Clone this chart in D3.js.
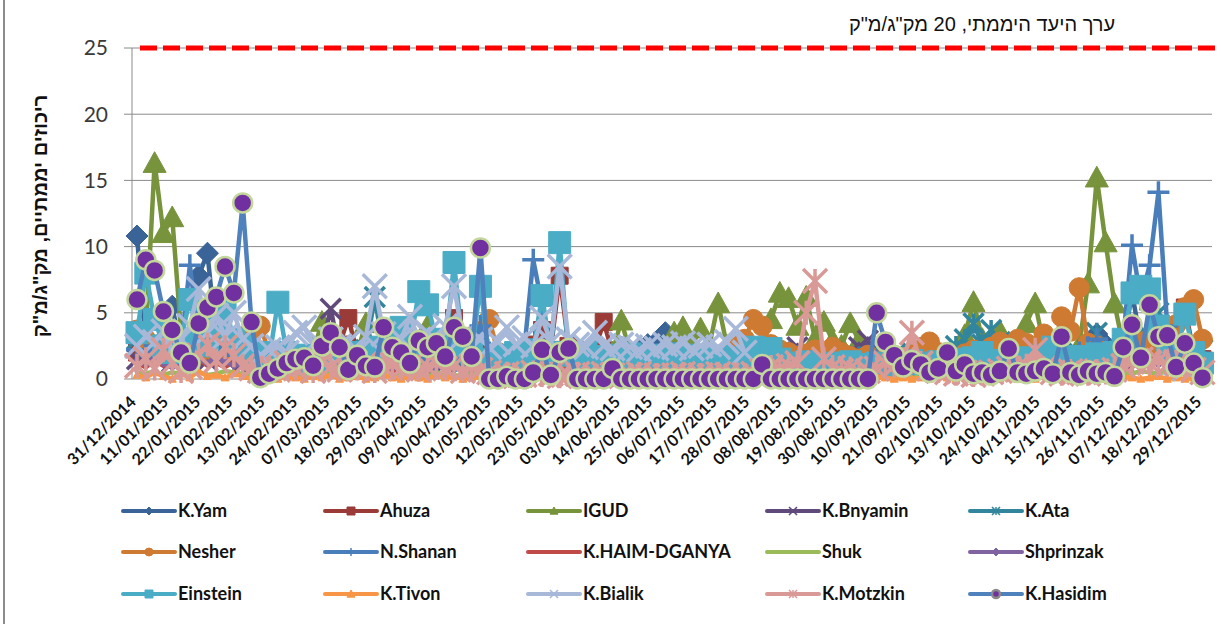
<!DOCTYPE html>
<html lang="he">
<head>
<meta charset="UTF-8">
<title>ריכוזים יממתיים</title>
<script src="https://d3js.org/d3.v7.min.js"></script>
<style>
  body { margin: 0; background: #fff; }
  svg { display: block; }
</style>
</head>
<body>
<svg id="chart" width="1221" height="624"></svg>
<script>
const _ = null;

// one value every 3 days starting 31/12/2014
const startDate = new Date(2014, 11, 31);
const stepDays = 3;

const tickLabels = [
  "31/12/2014", "11/01/2015", "22/01/2015", "02/02/2015", "13/02/2015", "24/02/2015",
  "07/03/2015", "18/03/2015", "29/03/2015", "09/04/2015", "20/04/2015", "01/05/2015",
  "12/05/2015", "23/05/2015", "03/06/2015", "14/06/2015", "25/06/2015", "06/07/2015",
  "17/07/2015", "28/07/2015", "08/08/2015", "19/08/2015", "30/08/2015", "10/09/2015",
  "21/09/2015", "02/10/2015", "13/10/2015", "24/10/2015", "04/11/2015", "15/11/2015",
  "26/11/2015", "07/12/2015", "18/12/2015", "29/12/2015"
];
const yTicks = [0, 5, 10, 15, 20, 25];
const limitValue = 25;

const seriesNames = [
  "K.Yam", "Ahuza", "IGUD", "K.Bnyamin", "K.Ata",
  "Nesher", "N.Shanan", "K.HAIM-DGANYA", "Shuk", "Shprinzak",
  "Einstein", "K.Tivon", "K.Bialik", "K.Motzkin", "K.Hasidim"
];

const kYam = [
  10.8, 2.5, 2.0, 3.0, 5.5, 2.2, 2.8, 7.8, 9.5, 3.0,
  2.5, 2.0, 1.8, 1.5, 1.2, 1.6, 1.4, 1.9, 1.5, 1.3,
  1.7, 1.4, 1.2, 1.6, 1.8, 1.3, 1.5, 1.2, 1.4, 1.7,
  1.5, 1.3, 1.6, 1.2, 1.4, 1.8, 1.5, 1.3, 1.1, 1.4,
  1.2, 1.5, 1.3, 1.6, 1.4, 1.8, 2.2, 1.5, 1.3, 1.6,
  1.8, 2.0, 1.7, 2.2, 1.9, 2.4, 2.0, 2.3, 2.6, 2.8,
  3.5, 2.4, 2.0, 2.2, 1.8, 2.0, 1.6, 1.9, 1.5, 1.7,
  1.4, 1.2, 1.5, 1.3, 1.1, 1.4, 1.2, 1.0, 1.3, 1.1,
  1.2, 1.0, 1.3, 1.1, 1.4, 1.2, 1.0, 1.3, 1.5, 1.2,
  1.4, 1.6, 1.3, 1.5, 1.8, 2.0, 1.6, 1.4, 1.7, 1.9,
  1.5, 1.8, 2.0, 1.6, 1.9, 2.2, 1.8, 2.1, 2.4, 3.4,
  2.6, 2.0, 2.5, 6.5, 2.8, 2.4, 2.0, 2.3, 1.8, 2.1, 1.6, 1.4
];
const ahuza = [
  2.0, 1.6, 1.8, 2.4, 1.5, 1.9, 2.2, 1.7, 2.5, 2.0,
  1.8, 2.3, 1.6, 1.4, 1.2, 1.5, 1.3, 1.7, 1.4, 1.6,
  1.9, 2.2, 1.8, 2.6, 4.6, 2.0, 1.5, 1.8, 1.6, 1.4,
  1.7, 1.5, 2.0, 1.8, 2.3, 2.0, 4.6, 2.2, 1.8, 2.4,
  2.0, 1.6, 1.8, 1.5, 2.0, 2.6, 3.7, 2.2, 7.8, 2.5,
  2.0, 1.8, 2.2, 4.3, 2.0, 1.7, 1.5, 1.8, 1.6, 1.4,
  1.6, 1.3, 1.5, 1.2, 1.4, 1.1, 1.3, 1.0, 1.2, 1.1,
  1.0, 1.2, 0.9, 1.1, 1.0, 0.8, 1.0, 0.9, 1.1, 0.8,
  1.0, 0.9, 0.8, 1.0, 1.1, 0.9, 1.0, 1.2, 0.9, 1.1,
  1.0, 0.8, 1.1, 0.9, 1.2, 1.0, 1.3, 1.1, 0.9, 1.2,
  1.0, 1.3, 1.1, 1.4, 1.2, 1.5, 1.3, 1.6, 1.4, 1.6,
  1.2, 1.5, 1.3, 1.8, 1.6, 2.0, 1.7, 2.2, 2.5, 5.4, 2.0, 1.5
];
const igud = [
  _, 3.5, 16.3, 11.0, 12.2, 3.5, _, _, _, _,
  _, _, _, _, _, _, _, _, _, _,
  2.0, 4.3, 2.0, _, _, 2.0, 4.2, 2.0, _, _,
  _, _, 2.2, 4.0, 2.0, _, _, _, _, _,
  _, _, _, _, _, _, _, _, _, _,
  _, _, _, _, 2.0, 4.4, 2.0, _, _, _,
  2.0, 3.5, 3.9, 2.5, 3.8, 2.5, 5.7, 2.5, _, _,
  _, 2.5, 4.5, 6.5, 6.1, 4.0, 6.2, 3.0, 4.3, 2.9,
  2.5, 4.2, 2.9, 2.0, _, _, _, _, _, _,
  _, _, _, 2.0, 3.3, 5.8, 3.0, 2.0, 3.6, 2.0,
  2.5, 4.2, 5.7, 2.5, _, _, _, 2.5, 7.2, 15.2,
  10.3, 5.7, 2.5, 2.0, 1.8, _, _, _, _, _, _, _
];
const kBnyamin = [
  1.5, 1.8, 2.0, 1.6, 1.3, 1.9, 2.2, 1.7, 1.4, 1.8,
  2.0, 1.6, 1.3, 1.1, 0.9, 1.2, 1.0, 1.4, 1.1, 1.5,
  1.8, 2.4, 5.3, 2.0, 1.6, 1.3, 1.7, 1.4, 1.2, 1.5,
  1.3, 1.6, 1.4, 1.8, 1.5, 1.2, 1.6, 1.3, 1.1, 1.4,
  1.2, 1.0, 1.3, 1.1, 1.4, 1.2, 1.6, 1.3, 1.1, 1.2,
  1.0, 1.2, 1.1, 1.3, 1.0, 1.2, 0.9, 1.1, 1.0, 1.2,
  1.1, 1.3, 1.0, 1.2, 1.4, 1.1, 1.3, 1.0, 1.2, 1.5,
  1.3, 1.6, 1.8, 2.0, 1.7, 2.4, 1.9, 1.6, 1.4, 1.8,
  1.5, 2.0, 2.4, 2.9, 1.6, 1.3, 1.1, 1.4, 1.2, 1.0,
  1.2, 1.0, 1.3, 1.1, 0.9, 1.2, 1.0, 1.3, 1.1, 1.4,
  1.2, 1.0, 1.3, 1.1, 1.4, 1.2, 1.5, 1.3, 1.1, 1.4,
  1.2, 1.6, 1.3, 1.8, 1.5, 1.7, 1.4, 1.9, 1.6, 1.3, 1.5, 1.2
];
const kAta = [
  3.0, 2.2, 1.8, 2.5, 2.0, 1.6, 2.3, 1.9, 2.6, 2.1,
  1.8, 2.4, 2.0, 1.5, 1.2, 1.4, 1.1, 1.6, 1.3, 1.5,
  1.2, 1.7, 1.4, 1.6, 1.9, 1.5, 2.2, 6.2, 2.0, 1.6,
  1.4, 1.7, 1.3, 1.5, 1.8, 1.4, 1.6, 1.2, 1.5, 1.3,
  1.1, 1.4, 1.2, 1.5, 1.3, 1.6, 1.4, 1.2, 1.5, 1.3,
  1.2, 1.4, 1.1, 1.3, 1.5, 1.2, 1.4, 1.1, 1.3, 1.2,
  1.4, 1.2, 1.5, 1.3, 1.1, 1.4, 1.2, 1.6, 1.3, 1.5,
  1.2, 1.4, 1.6, 1.3, 1.5, 1.8, 1.4, 1.6, 1.3, 1.5,
  1.2, 1.4, 1.7, 1.5, 1.3, 1.6, 1.8, 1.5, 2.0, 2.4,
  1.8, 1.6, 2.0, 2.5, 3.0, 4.2, 2.6, 3.7, 2.8, 2.2,
  1.9, 2.3, 2.0, 1.7, 2.1, 1.8, 1.5, 1.9, 2.2, 3.5,
  2.4, 2.0, 2.6, 3.0, 2.5, 3.2, 5.0, 2.8, 2.3, 2.0, 2.4, 2.2
];
const nesher = [
  3.7, 3.0, 2.5, 2.0, 1.8, 2.4, 2.8, 2.2, 1.9, 2.6,
  2.3, 2.0, 3.2, 3.6, 4.0, 2.0, 1.5, 1.3, 1.6, 1.2,
  1.4, 1.1, 1.5, 1.3, 1.8, 1.5, 1.9, 1.6, 1.4, 1.7,
  1.5, 1.8, 2.0, 1.6, 2.2, 1.9, 2.4, 2.8, 3.2, 3.6,
  4.5, 2.0, 1.4, 1.2, 1.0, 1.3, 1.1, 1.4, 1.2, 1.0,
  1.2, 0.9, 1.1, 1.3, 1.0, 1.2, 0.9, 1.1, 1.0, 1.2,
  1.1, 1.3, 1.0, 1.4, 1.2, 1.5, 1.8, 2.0, 2.4, 3.0,
  4.5, 4.0, 2.6, 2.2, 2.0, 1.7, 1.9, 2.2, 1.8, 2.4,
  2.0, 1.7, 1.5, 1.8, 1.4, 1.6, 1.3, 1.5, 1.8, 2.2,
  2.8, 2.0, 1.7, 1.5, 1.9, 2.2, 1.8, 2.4, 2.8, 2.5,
  3.0, 2.7, 2.4, 3.4, 2.2, 4.7, 3.6, 6.9, 2.7, 2.5,
  2.0, 1.8, 2.4, 2.2, 2.8, 3.0, 2.6, 3.4, 4.1, 5.4, 6.0, 3.0
];
const nShanan = [
  2.2, 1.8, 2.5, 2.0, 3.0, 2.4, 8.6, 3.2, 2.6, 2.0,
  2.4, 1.8, 2.2, 1.5, 1.2, 1.4, 1.1, 1.3, 1.0, 1.2,
  1.1, 1.4, 1.2, 1.0, 1.3, 1.5, 1.2, 1.4, 1.6, 1.3,
  1.5, 1.2, 1.4, 1.7, 1.3, 1.6, 1.4, 1.8, 2.2, 4.0,
  2.0, 1.5, 1.8, 1.6, 2.4, 9.0, 5.6, 2.2, 1.8, 1.5,
  1.3, 1.6, 1.2, 1.4, 1.1, 1.3, 1.0, 1.2, 1.1, 1.3,
  1.0, 1.2, 1.1, 0.9, 1.2, 1.0, 1.3, 1.1, 0.9, 1.2,
  1.0, 1.1, 0.9, 1.2, 1.0, 0.8, 1.1, 0.9, 1.0, 1.2,
  1.1, 1.3, 1.0, 1.2, 1.4, 1.1, 1.3, 1.0, 1.2, 1.4,
  1.2, 1.0, 1.3, 1.1, 1.4, 1.2, 1.5, 1.3, 1.1, 1.4,
  1.2, 1.5, 1.3, 1.6, 1.4, 1.8, 1.5, 2.0, 2.4, 3.0,
  2.2, 1.8, 3.0, 10.1, 6.0, 8.6, 14.1, 4.0, 2.0, 2.4, 1.8, 1.5
];
const kHaim = [
  1.2, 0.9, 1.4, 1.0, 1.3, 0.8, 1.1, 1.5, 1.0, 1.2,
  0.9, 1.3, 1.0, 0.8, 0.6, 0.9, 0.7, 1.0, 0.8, 0.6,
  0.9, 0.7, 1.0, 0.8, 1.1, 0.9, 0.7, 1.0, 0.8, 0.6,
  0.8, 1.0, 0.7, 0.9, 1.1, 0.8, 1.0, 0.7, 0.9, 1.2,
  0.8, 0.6, 0.9, 0.7, 0.8, 1.0, 0.7, 0.9, 0.6, 0.8,
  0.7, 0.5, 0.8, 0.6, 0.7, 0.5, 0.8, 0.6, 0.7, 0.5,
  0.6, 0.8, 0.5, 0.7, 0.6, 0.8, 0.5, 0.7, 0.6, 0.8,
  0.7, 0.9, 0.6, 0.8, 0.7, 0.9, 0.6, 0.8, 0.7, 0.6,
  0.8, 0.6, 0.9, 0.7, 0.8, 0.6, 0.9, 0.7, 1.0, 0.8,
  0.7, 0.9, 0.8, 1.0, 0.7, 0.9, 1.1, 0.8, 1.0, 0.9,
  1.1, 0.9, 1.2, 1.0, 1.3, 1.1, 1.4, 1.2, 1.5, 1.4,
  1.6, 1.3, 1.5, 1.2, 1.4, 1.7, 1.3, 1.6, 1.9, 2.4, 1.8, 1.5
];
const shuk = [
  0.5, 0.4, 0.6, 0.3, 0.5, 0.4, 0.6, 0.5, 0.3, 0.4,
  0.6, 0.5, 0.4, 0.3, 0.2, 0.3, 0.4, 0.3, 0.2, 0.4,
  0.3, 0.2, 0.4, 0.3, 0.5, 0.3, 0.2, 0.4, 0.3, 0.2,
  0.3, 0.4, 0.2, 0.3, 0.5, 0.4, 0.3, 0.2, 0.4, 0.3,
  0.2, 0.3, 0.4, 0.2, 0.3, 0.2, 0.4, 0.3, 0.2, 0.3,
  0.2, 0.3, 0.2, 0.4, 0.3, 0.2, 0.3, 0.2, 0.3, 0.4,
  0.3, 0.2, 0.3, 0.2, 0.4, 0.3, 0.2, 0.3, 0.4, 0.2,
  0.3, 0.4, 0.3, 0.2, 0.3, 0.4, 0.3, 0.2, 0.3, 0.2,
  0.3, 0.2, 0.4, 0.3, 0.2, 0.3, 0.4, 0.3, 0.2, 0.3,
  0.4, 0.3, 0.2, 0.3, 0.4, 0.2, 0.3, 0.4, 0.3, 0.2,
  0.3, 0.4, 0.3, 0.5, 0.3, 0.4, 0.2, 0.3, 0.4, 0.3,
  0.4, 0.3, 0.5, 0.4, 0.6, 0.5, 0.4, 0.6, 0.5, 0.4, 0.3, 0.4
];
const shprinzak = [
  1.4, 1.1, 1.6, 1.2, 0.9, 1.3, 1.0, 1.5, 1.2, 1.7,
  1.3, 1.0, 1.2, 0.9, 0.7, 0.8, 0.6, 0.9, 0.7, 1.0,
  0.8, 0.6, 0.9, 1.1, 0.8, 0.7, 1.0, 0.8, 0.6, 0.9,
  0.7, 1.0, 0.8, 0.6, 0.9, 1.1, 0.8, 0.7, 1.0, 1.2,
  0.9, 0.7, 0.6, 0.8, 0.5, 0.7, 0.9, 0.6, 0.8, 0.5,
  0.7, 0.6, 0.8, 0.5, 0.6, 0.7, 0.5, 0.6, 0.8, 0.6,
  0.5, 0.7, 0.6, 0.8, 0.5, 0.6, 0.7, 0.5, 0.8, 0.6,
  0.7, 0.5, 0.6, 0.8, 0.6, 0.7, 0.5, 0.6, 0.7, 0.5,
  0.6, 0.8, 0.5, 0.7, 0.6, 0.8, 0.7, 0.9, 0.6, 0.8,
  0.7, 0.9, 0.6, 0.8, 1.0, 0.7, 0.9, 0.8, 0.6, 0.9,
  0.8, 1.0, 0.7, 0.9, 1.1, 0.8, 1.0, 0.9, 1.2, 1.0,
  1.1, 0.9, 1.3, 1.0, 1.2, 1.4, 1.1, 1.3, 1.0, 1.2, 0.9, 1.1
];
const einstein = [
  3.5, 8.0, 4.5, 2.5, 2.0, 3.0, 6.0, 3.0, 2.5, 4.0,
  5.5, 3.0, 2.5, 1.8, 2.0, 1.5, 5.8, 2.0, 1.2, 1.8,
  1.5, 1.9, 1.4, 2.2, 1.7, 2.0, 1.6, 2.4, 1.8, 2.1,
  3.9, 2.5, 6.6, 5.6, 3.0, 2.2, 8.8, 2.5, 2.0, 7.0,
  1.5, 1.8, 1.4, 2.0, 1.6, 2.2, 6.3, 2.0, 10.3, 1.8,
  1.6, 2.0, 1.7, 1.5, 1.8, 1.6, 1.9, 1.5, 1.7, 1.8,
  1.6, 1.9, 1.5, 1.8, 1.6, 1.4, 1.7, 1.5, 1.3, 1.6,
  2.4, 2.2, 2.3, 1.5, 1.2, 1.0, 1.3, 1.1, 0.9, 1.2,
  1.0, 1.3, 1.1, 0.9, 1.2, 1.0, 1.3, 1.1, 1.4, 1.2,
  1.0, 1.3, 1.1, 1.5, 1.2, 1.6, 2.0, 1.4, 1.2, 1.5,
  1.3, 1.6, 1.4, 1.8, 2.4, 1.6, 1.4, 1.7, 1.5, 1.9,
  1.6, 2.0, 3.0, 6.5, 7.0, 6.8, 4.0, 2.0, 1.5, 4.9, 2.0, 1.2
];
const kTivon = [
  0.3, 0.1, 0.5, 0.2, 0.0, 0.4, 0.1, 0.6, 0.2, 0.3,
  0.1, 0.4, 0.2, 0.0, 0.1, 0.3, 0.0, 0.2, 0.1, 0.0,
  0.2, 0.1, 0.3, 0.0, 0.1, 0.2, 0.0, 0.1, 0.3, 0.1,
  0.0, 0.2, 0.1, 0.0, 0.3, 0.1, 0.2, 0.0, 0.1, 0.2,
  0.1, 0.0, 0.2, 0.1, 0.0, 0.1, 0.2, 0.0, 0.1, 0.0,
  0.1, 0.0, 0.1, 0.2, 0.0, 0.1, 0.0, 0.1, 0.0, 0.2,
  0.0, 0.1, 0.0, 0.1, 0.2, 0.0, 0.1, 0.0, 0.1, 0.0,
  0.1, 0.0, 0.2, 0.1, 0.0, 0.1, 0.0, 0.1, 0.2, 0.0,
  0.1, 0.0, 0.1, 0.0, 0.2, 0.1, 0.0, 0.1, 0.0, 0.1,
  0.0, 0.2, 0.1, 0.0, 0.1, 0.0, 0.1, 0.2, 0.0, 0.1,
  0.0, 0.1, 0.0, 0.2, 0.1, 0.0, 0.1, 0.0, 0.1, 0.2,
  0.0, 0.1, 0.2, 0.1, 0.0, 0.1, 0.2, 0.0, 0.1, 0.0, 0.1, 0.0
];
const kBialik = [
  2.5, 3.2, 2.8, 3.6, 2.2, 3.0, 4.0, 6.8, 3.5, 4.8,
  3.2, 5.0, 3.0, 2.5, 1.8, 2.2, 2.4, 2.0, 3.5, 3.9,
  2.6, 2.2, 3.0, 2.5, 2.8, 2.0, 3.2, 7.0, 3.4, 2.6,
  3.0, 4.7, 3.0, 3.5, 2.8, 4.0, 7.0, 3.2, 2.6, 3.0,
  2.4, 2.8, 3.9, 2.6, 3.1, 2.5, 4.6, 2.8, 8.5, 3.0,
  2.6, 2.4, 3.5, 2.5, 2.3, 2.6, 2.4, 2.2, 2.5, 2.3,
  2.6, 2.4, 2.7, 2.3, 2.5, 2.6, 2.4, 2.8, 3.8, 2.0,
  _, _, _, _, _, _, _, _, _, _,
  _, _, _, _, _, _, _, _, _, _,
  _, _, _, _, _, _, _, _, _, _,
  _, _, _, _, _, _, _, _, _, _,
  _, _, _, _, _, _, _, _, 1.2, 0.8, _, _
];
const kMotzkin = [
  1.0, 1.5, 0.8, 2.2, 1.2, 0.6, 0.9, 1.8, 2.6, 1.4,
  2.4, 1.8, 1.0, 0.8, 0.6, 0.9, 0.7, 1.2, 0.8, 1.1,
  0.6, 1.3, 0.9, 0.7, 1.0, 0.8, 1.2, 0.6, 0.9, 1.1,
  0.8, 1.0, 0.7, 0.9, 1.2, 0.8, 1.0, 0.6, 0.9, 0.7,
  0.5, 0.3, 0.4, 0.2, 0.3, 0.5, 0.3, 0.4, 0.2, 0.3,
  0.4, 0.2, 0.3, 0.4, 0.3, 0.2, 0.3, 0.4, 0.2, 0.3,
  0.2, 0.3, 0.4, 0.2, 0.3, 0.2, 0.4, 0.3, 0.2, 0.3,
  0.4, 0.6, 0.9, 0.8, 1.0, 1.2, 5.0, 7.4, 1.5, 0.9,
  0.6, 0.8, 0.5, 0.6, 0.8, 1.2, 1.0, 1.5, 3.5, 1.2,
  0.8, 0.6, 0.5, 0.4, 0.5, 0.3, 0.4, 0.5, 0.6, 0.8,
  0.7, 1.0, 2.2, 0.8, 0.5, 0.4, 0.6, 0.5, 0.4, 0.6,
  0.5, 0.7, 1.0, 1.3, 1.5, 1.2, 1.4, 1.1, 1.3, 0.9, 0.7, 0.5
];
const kHasidim = [
  6.0, 9.0, 8.2, 5.1, 3.7, 2.0, 1.2, 4.2, 5.4, 6.2,
  8.5, 6.5, 13.3, 4.3, 0.1, 0.4, 0.8, 1.2, 1.5, 1.6,
  1.0, 2.5, 3.5, 2.4, 0.7, 1.8, 1.0, 0.9, 3.9, 2.4,
  2.0, 1.2, 2.9, 2.4, 2.7, 1.7, 3.9, 3.2, 1.7, 9.9,
  0.0, 0.0, 0.2, 0.0, 0.0, 0.5, 2.2, 0.3, 2.0, 2.3,
  0.0, 0.0, 0.0, 0.0, 0.8, 0.0, 0.0, 0.0, 0.0, 0.0,
  0.0, 0.0, 0.0, 0.0, 0.0, 0.0, 0.0, 0.0, 0.0, 0.0,
  0.0, 1.1, 0.0, 0.0, 0.0, 0.0, 0.0, 0.0, 0.0, 0.0,
  0.0, 0.0, 0.0, 0.0, 5.0, 2.8, 1.8, 0.9, 1.4, 1.1,
  0.5, 0.8, 2.0, 0.6, 1.1, 0.4, 0.5, 0.3, 0.6, 2.3,
  0.5, 0.4, 0.6, 0.8, 0.4, 3.2, 0.5, 0.3, 0.6, 0.4,
  0.5, 0.2, 2.4, 4.1, 1.6, 5.6, 3.2, 3.3, 0.9, 2.7, 1.2, 0.1
];

const seriesValues = [kYam, ahuza, igud, kBnyamin, kAta, nesher, nShanan, kHaim,
  shuk, shprinzak, einstein, kTivon, kBialik, kMotzkin, kHasidim];

// look of each series: line colour, marker, marker size
const styles = [
  { color: "#3a6398", marker: "diamond", r: 11 },
  { color: "#9b3b38", marker: "square", r: 8.5 },
  { color: "#77933c", marker: "triangle", r: 11.5 },
  { color: "#604a7b", marker: "x", r: 10 },
  { color: "#31859c", marker: "star", r: 10 },
  { color: "#cf7a32", marker: "circle", r: 10 },
  { color: "#4a7ebb", marker: "plus", r: 11 },
  { color: "#be4b48", marker: null, r: 0 },
  { color: "#9bbb59", marker: null, r: 0 },
  { color: "#8064a2", marker: "diamond", r: 4 },
  { color: "#4bacc6", marker: "square", r: 11 },
  { color: "#f79646", marker: "triangle", r: 4 },
  { color: "#a7b8d9", marker: "x", r: 12 },
  { color: "#d99a97", marker: "star", r: 12 },
  { color: "#4f81bd", marker: "circle", r: 9.5, fill: "#7030a0", edge: "#c3d69b" }
];

const svg = d3.select("#chart");
const parseDay = d3.timeParse("%d/%m/%Y");

const x = d3.scaleTime()
  .domain([d3.timeHour.offset(startDate, -41), d3.timeHour.offset(startDate, 366 * 24 + 6)])
  .range([132, 1212]);
const y = d3.scaleLinear().domain([0, 25]).range([379, 48]);

// outer frame edge
svg.append("line").attr("x1", 4).attr("x2", 4).attr("y1", 0).attr("y2", 624)
  .attr("stroke", "#8c8c8c").attr("stroke-width", 2);

// gridlines
svg.append("g").selectAll("line").data(yTicks.filter(t => t > 0)).join("line")
  .attr("x1", 132).attr("x2", 1212)
  .attr("y1", d => y(d)).attr("y2", d => y(d))
  .attr("stroke", "#8a8a8a").attr("stroke-width", 1);

// y axis
const yAxis = svg.append("g");
yAxis.append("line").attr("x1", 132).attr("x2", 132).attr("y1", y(25)).attr("y2", y(0))
  .attr("stroke", "#8a8a8a");
yAxis.selectAll(".tk").data(yTicks).join("line").attr("class", "tk")
  .attr("x1", 124).attr("x2", 132).attr("y1", d => y(d)).attr("y2", d => y(d))
  .attr("stroke", "#8a8a8a");
yAxis.selectAll("text").data(yTicks).join("text")
  .attr("x", 108).attr("y", d => y(d)).attr("dy", "0.35em")
  .attr("text-anchor", "end")
  .style("font", "21px Lato, 'Liberation Sans', sans-serif").attr("fill", "#3a3a3a")
  .text(d => d);

svg.append("line").attr("x1", 132).attr("x2", 1212).attr("y1", y(0)).attr("y2", y(0))
  .attr("stroke", "#8a8a8a");

// target line
svg.append("line").attr("x1", 140).attr("x2", 1221).attr("y1", y(limitValue)).attr("y2", y(limitValue))
  .attr("stroke", "#ff0000").attr("stroke-width", 5).attr("stroke-dasharray", "17,6");

function markerPath(type, r) {
  switch (type) {
    case "circle": return `M${r},0A${r},${r} 0 1,1 ${-r},0A${r},${r} 0 1,1 ${r},0Z`;
    case "diamond": return `M0,${-r}L${r},0L0,${r}L${-r},0Z`;
    case "square": return `M${-r},${-r}H${r}V${r}H${-r}Z`;
    case "triangle": return `M0,${-r}L${r},${r * 0.8}L${-r},${r * 0.8}Z`;
    case "x": return `M${-r},${-r}L${r},${r}M${r},${-r}L${-r},${r}`;
    case "star": return `M${-r},${-r}L${r},${r}M${r},${-r}L${-r},${r}M0,${-r}V${r}`;
    case "plus": return `M${-r},0H${r}M0,${-r}V${r}`;
  }
  return "";
}
const openMarkers = ["x", "star", "plus"];

function styleMarker(sel, st, thin) {
  const open = openMarkers.includes(st.marker);
  sel.attr("fill", open ? "none" : (st.fill || st.color))
    .attr("stroke", st.edge || st.color)
    .attr("stroke-width", open ? (thin ? 1.5 : 3.5) : (st.edge ? 2.5 : 1));
}

const line = d3.line()
  .defined(d => d.v != null)
  .x(d => x(d.date))
  .y(d => y(d.v));

const plot = svg.append("g");
seriesValues.forEach((vals, k) => {
  const st = styles[k];
  const pts = vals.map((v, i) => ({ date: d3.timeDay.offset(startDate, i * stepDays), v }));
  const g = plot.append("g");
  g.append("path").attr("d", line(pts))
    .attr("fill", "none").attr("stroke", st.color).attr("stroke-width", 4.5)
    .attr("stroke-linejoin", "round").attr("stroke-linecap", "round");
  if (st.marker) {
    g.selectAll("path.m").data(pts.filter(d => d.v != null)).join("path")
      .attr("class", "m")
      .attr("transform", d => `translate(${x(d.date)},${y(d.v)})`)
      .attr("d", markerPath(st.marker, st.r))
      .call(styleMarker, st, false);
  }
});

// x tick labels
svg.append("g").selectAll("text").data(tickLabels).join("text")
  .attr("transform", d => `translate(${x(parseDay(d))},403) rotate(-45)`)
  .attr("text-anchor", "end")
  .style("font", "bold 16px Lato, 'Liberation Sans', sans-serif").attr("fill", "#111")
  .text(d => d);

// titles
svg.append("text").attr("x", 982).attr("y", 31).attr("text-anchor", "middle")
  .style("font", "20px 'Liberation Sans', Arial, sans-serif").attr("fill", "#111")
  .text('ערך היעד היממתי, 20 מק"ג/מ"ק');
svg.append("text").attr("transform", "translate(40,216) rotate(-90)")
  .attr("text-anchor", "middle").attr("dy", "0.35em")
  .style("font", "bold 20px 'Liberation Sans', Arial, sans-serif").attr("fill", "#111")
  .text('ריכוזים יממתיים, מק"ג/מ"ק');

// legend
const legendCols = [123, 325, 528, 767, 970];
const legendRows = [511, 552, 594];
const legend = svg.append("g");
seriesNames.forEach((name, k) => {
  const st = styles[k];
  const lx = legendCols[k % 5], ly = legendRows[Math.floor(k / 5)];
  const g = legend.append("g").attr("transform", `translate(${lx},${ly})`);
  g.append("line").attr("x1", 0).attr("x2", 52).attr("y1", 0).attr("y2", 0)
    .attr("stroke", st.color).attr("stroke-width", 4).attr("stroke-linecap", "round");
  if (st.marker) {
    g.append("path").attr("transform", "translate(26,0)")
      .attr("d", markerPath(st.marker, 4))
      .call(styleMarker, Object.assign({}, st, { edge: st.edge ? "#8a8a8a" : null }), true);
  }
  g.append("text").attr("x", 55).attr("dy", "0.35em")
    .style("font", "bold 18px Lato, 'Liberation Sans', sans-serif").attr("fill", "#111")
    .text(name);
});
</script>
</body>
</html>
